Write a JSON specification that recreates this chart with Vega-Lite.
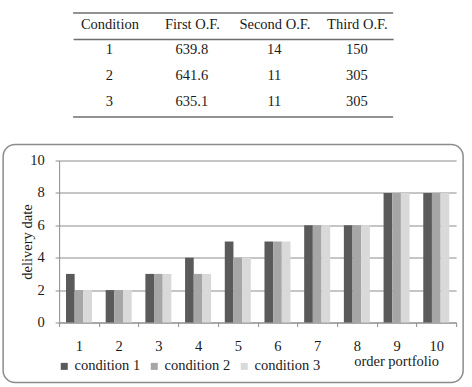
{
  "$schema": "https://vega.github.io/schema/vega-lite/v6.json",
  "background": "white",
  "padding": {"left": 2, "top": 12, "right": 0, "bottom": 0},
  "spacing": 25.5,
  "center": true,
  "config": {
    "font": "'Liberation Serif', 'Times New Roman', serif",
    "view": {"stroke": null},
    "text": {"font": "'Liberation Serif', 'Times New Roman', serif", "color": "#1a1a1a"},
    "axis": {
      "labelFont": "'Liberation Serif', 'Times New Roman', serif",
      "titleFont": "'Liberation Serif', 'Times New Roman', serif",
      "labelColor": "#1a1a1a",
      "titleColor": "#1a1a1a",
      "domainColor": "#8c8c8c",
      "tickColor": "#8c8c8c",
      "gridColor": "#8c8c8c",
      "gridOpacity": 1
    },
    "legend": {"labelFont": "'Liberation Serif', 'Times New Roman', serif", "labelColor": "#1a1a1a"}
  },
  "datasets": {
    "objectives": [
      {"condition": 1, "column": "Condition", "value": 1},
      {"condition": 1, "column": "First O.F.", "value": 639.8},
      {"condition": 1, "column": "Second O.F.", "value": 14},
      {"condition": 1, "column": "Third O.F.", "value": 150},
      {"condition": 2, "column": "Condition", "value": 2},
      {"condition": 2, "column": "First O.F.", "value": 641.6},
      {"condition": 2, "column": "Second O.F.", "value": 11},
      {"condition": 2, "column": "Third O.F.", "value": 305},
      {"condition": 3, "column": "Condition", "value": 3},
      {"condition": 3, "column": "First O.F.", "value": 635.1},
      {"condition": 3, "column": "Second O.F.", "value": 11},
      {"condition": 3, "column": "Third O.F.", "value": 305}
    ],
    "delivery": [
      {"portfolio": 1, "condition 1": 3, "condition 2": 2, "condition 3": 2},
      {"portfolio": 2, "condition 1": 2, "condition 2": 2, "condition 3": 2},
      {"portfolio": 3, "condition 1": 3, "condition 2": 3, "condition 3": 3},
      {"portfolio": 4, "condition 1": 4, "condition 2": 3, "condition 3": 3},
      {"portfolio": 5, "condition 1": 5, "condition 2": 4, "condition 3": 4},
      {"portfolio": 6, "condition 1": 5, "condition 2": 5, "condition 3": 5},
      {"portfolio": 7, "condition 1": 6, "condition 2": 6, "condition 3": 6},
      {"portfolio": 8, "condition 1": 6, "condition 2": 6, "condition 3": 6},
      {"portfolio": 9, "condition 1": 8, "condition 2": 8, "condition 3": 8},
      {"portfolio": 10, "condition 1": 8, "condition 2": 8, "condition 3": 8}
    ]
  },
  "vconcat": [
    {
      "width": 320,
      "height": 78,
      "data": {"name": "objectives"},
      "layer": [
        {
          "mark": {"type": "text", "fontSize": 14.5, "baseline": "alphabetic", "dy": 2},
          "encoding": {
            "x": {
              "field": "column",
              "type": "nominal",
              "sort": ["Condition", "First O.F.", "Second O.F.", "Third O.F."],
              "scale": {"type": "point", "padding": 0.44},
              "axis": {
                "orient": "top",
                "title": null,
                "ticks": false,
                "tickSize": 0,
                "labelAngle": 0,
                "labelFontSize": 14.5,
                "labelBaseline": "alphabetic",
                "labelPadding": 11,
                "domainColor": "#6e6e6e",
                "domainWidth": 1.5
              }
            },
            "y": {"field": "condition", "type": "ordinal", "axis": null},
            "text": {"field": "value"}
          }
        },
        {
          "transform": [{"filter": "datum.condition == 1 && datum.column == 'Condition'"}],
          "mark": {"type": "rule", "stroke": "#6e6e6e", "strokeWidth": 1.5, "yOffset": -39},
          "encoding": {"y": {"field": "condition", "type": "ordinal"}}
        },
        {
          "transform": [{"filter": "datum.condition == 3 && datum.column == 'Condition'"}],
          "mark": {"type": "rule", "stroke": "#6e6e6e", "strokeWidth": 1.5, "yOffset": 13},
          "encoding": {"y": {"field": "condition", "type": "ordinal"}}
        }
      ]
    },
    {
      "width": 460,
      "height": 238,
      "view": {"stroke": "#8c8c8c", "strokeWidth": 1.5, "cornerRadius": 12},
      "data": {"name": "delivery"},
      "transform": [
        {"fold": ["condition 1", "condition 2", "condition 3"], "as": ["condition", "date"]}
      ],
      "mark": {"type": "bar"},
      "encoding": {
        "x": {
          "field": "portfolio",
          "type": "ordinal",
          "scale": {"range": [56, 453], "paddingInner": 0, "paddingOuter": 0},
          "axis": {
            "offset": -60,
            "tickBand": "extent",
            "tickSize": 4,
            "labelAngle": 0,
            "labelPadding": 13,
            "labelFontSize": 14.5,
            "grid": false,
            "title": "order portfolio",
            "titleFontSize": 14.5,
            "titleFontWeight": "normal",
            "titleX": 393,
            "titleY": 43,
            "titleAlign": "center",
            "titleBaseline": "alphabetic"
          }
        },
        "xOffset": {
          "field": "condition",
          "type": "nominal",
          "scale": {"paddingInner": 0, "paddingOuter": 0.79}
        },
        "y": {
          "field": "date",
          "type": "quantitative",
          "scale": {"domain": [0, 10], "range": [178, 16], "nice": false},
          "axis": {
            "offset": -56,
            "values": [0, 2, 4, 6, 8, 10],
            "tickSize": 4,
            "labelPadding": 11,
            "labelFontSize": 14.5,
            "grid": true,
            "title": "delivery date",
            "titleFontSize": 14.5,
            "titleFontWeight": "normal",
            "titleX": -28,
            "titleBaseline": "alphabetic"
          }
        },
        "color": {
          "field": "condition",
          "type": "nominal",
          "scale": {"range": ["#5a5a5a", "#a6a6a6", "#d9d9d9"]},
          "legend": {
            "orient": "none",
            "legendX": 54,
            "legendY": 320,
            "direction": "horizontal",
            "title": null,
            "symbolType": "square",
            "symbolSize": 49,
            "symbolStrokeWidth": 0,
            "labelFontSize": 14.5,
            "labelOffset": 3,
            "columnPadding": 6
          }
        }
      }
    }
  ]
}
